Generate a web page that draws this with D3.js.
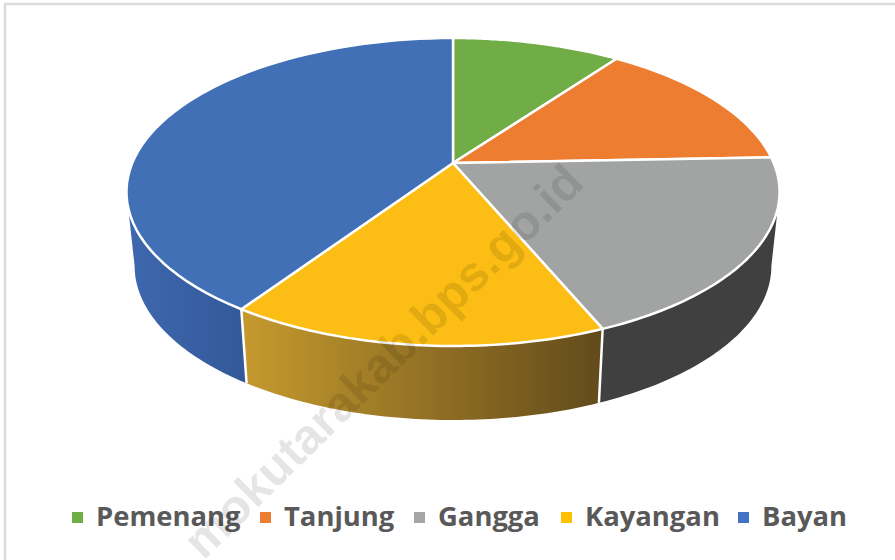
<!DOCTYPE html>
<html lang="en">
<head>
<meta charset="utf-8">
<title>Pie</title>
<style>
  html, body { margin:0; padding:0; background:white; overflow:hidden; }
  .legend text { font:bold 27.4px "Open Sans"; fill:#595959; }
  .watermark { font:bold 49px "Liberation Sans"; fill:#000; fill-opacity:0.1; }
</style>
</head>
<body>
<svg class="chart" width="895" height="560"></svg>
<script src="https://cdnjs.cloudflare.com/ajax/libs/d3/7.8.5/d3.min.js"></script>
<script>
var categories = ["Pemenang", "Tanjung", "Gangga", "Kayangan", "Bayan"];
var shares = [10.0, 14.4, 19.3, 15.7, 40.6];
var topColors = ["#70ad47", "#ed7d31", "#a2a4a3", "#fcbe14", "#4170b7"];
var sideFrom = ["#70ad47", "#ed7d31", "#404040", "#c69a2e", "#3e68ae"];
var sideTo = ["#70ad47", "#ed7d31", "#404040", "#624a1b", "#33599a"];
var legendColors = ["#70ad47", "#ed7d31", "#a5a5a5", "#ffc000", "#4472c4"];
var legendX = [72, 260, 414, 561, 738];

var svg = d3.select(".chart");

// frame around the chart, only top and left show
svg.append("rect").attr("x", 5).attr("y", 4).attr("width", 895).attr("height", 570)
  .attr("fill", "none").attr("stroke", "#dcdcdc").attr("stroke-width", 2.5);

// tilted pie: circle coordinates go through a perspective map,
// so the apex sits higher than the centre of the ellipse
var cx = 453, apexY = 163, topY = 38, bottomY = 346;
var c = ((apexY - topY) - (bottomY - apexY)) / (bottomY - topY);
var a = (apexY - topY) + topY * c;
var rx = 320.7;
var depth = 74, shrink = 0.975;

function project(angle) {
  var u = Math.sin(angle), v = -Math.cos(angle), w = 1 + c * v;
  return [cx + rx * u / w, (a * v + apexY) / w];
}
function projectLow(angle) {
  var p = project(angle);
  return [cx + (p[0] - cx) * shrink, p[1] + depth];
}
function samples(start, end) {
  return d3.range(0, 61).map(function(i) { return start + (end - start) * i / 60; });
}

var pie = d3.pie().sort(null)(shares);
var line = d3.line();

// the rim is only seen between the two widest points of the ellipse
var rimStart = Math.acos(c), rimEnd = 2 * Math.PI - Math.acos(c);

var defs = svg.append("defs");
var sides = svg.append("g");

pie.forEach(function(d, i) {
  var start = Math.max(d.startAngle, rimStart), end = Math.min(d.endAngle, rimEnd);
  if (start >= end) return;
  var upper = samples(start, end).map(project);
  var lower = samples(start, end).map(projectLow).reverse();
  var id = "side" + i;
  var grad = defs.append("linearGradient").attr("id", id).attr("gradientUnits", "userSpaceOnUse")
    .attr("x1", d3.min(upper, function(p) { return p[0]; })).attr("y1", 0)
    .attr("x2", d3.max(upper, function(p) { return p[0]; })).attr("y2", 0);
  grad.append("stop").attr("offset", 0).attr("stop-color", sideFrom[i]);
  grad.append("stop").attr("offset", 1).attr("stop-color", sideTo[i]);
  sides.append("path")
    .attr("d", line(upper.concat(lower)) + "Z")
    .attr("fill", "url(#" + id + ")");
});

// white seams between the rim pieces
pie.forEach(function(d) {
  var ang = d.endAngle;
  if (ang <= rimStart || ang >= rimEnd) return;
  sides.append("path").attr("d", line([project(ang), projectLow(ang)]))
    .attr("stroke", "white").attr("stroke-width", 2.5).attr("fill", "none");
});

// top face
svg.append("g").selectAll("path").data(pie).enter().append("path")
  .attr("d", function(d) {
    return line([[cx, apexY]].concat(samples(d.startAngle, d.endAngle).map(project))) + "Z";
  })
  .attr("fill", function(d, i) { return topColors[i]; })
  .attr("stroke", "white").attr("stroke-width", 2.5).attr("stroke-linejoin", "round");

// legend
var legend = svg.append("g").attr("class", "legend");
categories.forEach(function(name, i) {
  legend.append("rect").attr("x", legendX[i]).attr("y", 512).attr("width", 11).attr("height", 11)
    .attr("fill", legendColors[i]);
  legend.append("text").attr("x", legendX[i] + 24).attr("y", 526).text(name);
});

// site watermark sits over everything
svg.append("text").attr("class", "watermark")
  .attr("text-anchor", "end")
  .attr("transform", "translate(586,185) rotate(-44.5)")
  .text("mokutarakab.bps.go.id");
</script>
</body>
</html>
